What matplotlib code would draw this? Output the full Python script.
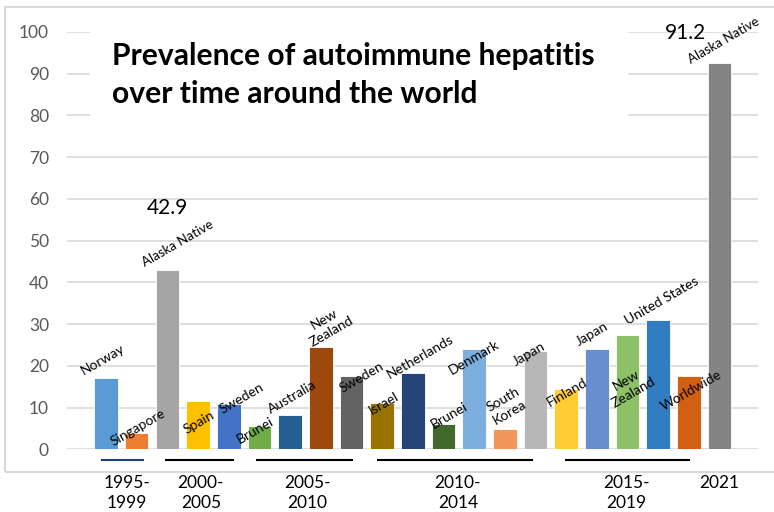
import numpy as np
from matplotlib import pyplot as plt
from matplotlib.patches import Rectangle

# bars in plotting order, grouped by period
countries = [
    "Norway", "Singapore", "Alaska Native",
    "Spain", "Sweden",
    "Brunei", "Australia", "New\nZealand", "Sweden",
    "Israel", "Netherlands", "Brunei", "Denmark", "South\nKorea", "Japan",
    "Finland", "Japan", "New\nZealand", "United States", "Worldwide",
    "Alaska Native",
]
values = [
    17.0, 3.8, 42.9,
    11.5, 10.8,
    5.7, 8.1, 24.4, 17.5,
    11.1, 18.3, 6.1, 24.0, 4.9, 23.5,
    14.4, 24.0, 27.4, 31.1, 17.6,
    92.6,
]
colors = [
    "#5B9BD5", "#ED7D31", "#A5A5A5",
    "#FFC000", "#4472C4",
    "#70AD47", "#255E91", "#9E480E", "#636363",
    "#997300", "#264478", "#43682B", "#7CAFDD", "#F1975A", "#B7B7B7",
    "#FFCD33", "#698ED0", "#8CC168", "#327DC2", "#D26012",
    "#848484",
]
periods = ["1995-\n1999", "2000-\n2005", "2005-\n2010", "2010-\n2014", "2015-\n2019", "2021"]
period_sizes = [3, 2, 4, 6, 5, 1]
value_labels = {2: "42.9", 20: "91.2"}

# layout: label offsets from bar top (pixels), hand placed like the original
label_offsets = [
    (-3, 19), (1, 6), (10, 27),
    (1, -21), (13, 6),
    (-4, -5), (2, 18), (7, 22), (10, -1),
    (2, 0), (7.5, 16), (6, 8), (0, -8), (1.5, 23), (-7, -3),
    (1, -3), (-5, 15), (2, -51), (4, 19), (2.5, -15),
    (4.5, 22),
]
value_offsets = {2: (0, 62), 20: (-34.5, 30)}
period_shift = [-0.32, -0.41, 0.06, -0.03, -0.03, 0.0]
group_lines = [(-0.13, 1.2), (1.95, 4.14), (4.92, 8.01), (8.86, 13.9), (14.98, 18.99)]
group_line_colors = ["#203F80", "black", "black", "black", "black"]


def main() -> None:
    plt.rcParams["font.family"] = ["Lato", "DejaVu Sans"]

    fig = plt.figure(figsize=(7.74, 5.12), dpi=100)
    ax = fig.add_axes([67 / 774, 1 - 449.3 / 512, 691 / 774, 417.3 / 512])

    x = np.arange(len(values))
    ax.bar(x, values, width=0.77, color=colors, edgecolor="white", linewidth=0.6, zorder=2)

    ax.set_xlim(-1.27, 21.25)
    ax.set_ylim(0, 100)
    ax.set_yticks(range(0, 101, 10))
    ax.set_xticks([])
    ax.tick_params(axis="y", length=0, pad=13, labelsize=12.5, labelcolor="#595959")
    for s in ax.spines.values():
        s.set_visible(False)
    ax.grid(axis="y", color="#D9D9D9", linewidth=1.2)
    ax.set_axisbelow(True)

    # white box behind the title hides the top gridlines
    ax.add_patch(Rectangle((90 / 774, 1 - 135 / 512), (628 - 90) / 774, 108 / 512,
                           transform=fig.transFigure, facecolor="white",
                           edgecolor="none", zorder=1.5))

    # country labels
    for i, name in enumerate(countries):
        fs = 9.5 if name == "Alaska Native" else 10
        ax.annotate(name, xy=(x[i], values[i]), xytext=label_offsets[i],
                    textcoords="offset pixels", ha="center", va="center",
                    rotation=30, fontsize=fs, zorder=5)

    for i, txt in value_labels.items():
        ax.annotate(txt, xy=(x[i], values[i]), xytext=value_offsets[i],
                    textcoords="offset pixels", ha="center", va="center",
                    fontsize=15, zorder=5)

    # period labels and the lines under each group
    start = 0
    for k, (lab, n) in enumerate(zip(periods, period_sizes)):
        center = start + (n - 1) / 2 + period_shift[k]
        ax.text(center, -6.2, lab, ha="center", va="top", fontsize=12.5,
                linespacing=1.3, clip_on=False)
        start += n
    for (a, b), c in zip(group_lines, group_line_colors):
        ax.plot([a, b], [-2.56, -2.56], color=c, linewidth=1.5, clip_on=False)

    fig.text(112 / 774, 1 - 65 / 512, "Prevalence of autoimmune hepatitis",
             fontsize=21.6, fontweight="bold", va="baseline", ha="left")
    fig.text(112 / 774, 1 - 103 / 512, "over time around the world",
             fontsize=21.6, fontweight="bold", va="baseline", ha="left")

    # outer chart border
    fig.add_artist(Rectangle((5 / 774, 1 - 472 / 512), 775 / 774, 465 / 512,
                             transform=fig.transFigure, fill=False,
                             edgecolor="#D9D9D9", linewidth=1.5))

    fig.savefig("out.png", dpi=100)


if __name__ == "__main__":
    main()
